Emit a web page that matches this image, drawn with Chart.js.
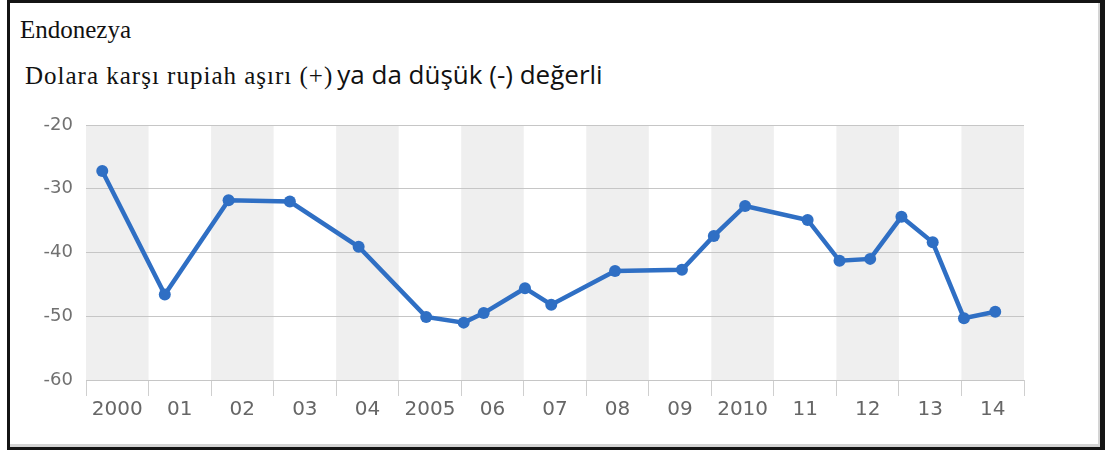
<!DOCTYPE html>
<html>

<head>
  <meta charset="utf-8">
  <title>Endonezya</title>
  <script src="https://cdn.jsdelivr.net/npm/chart.js"></script>
  <style>
    body {
      margin: 0;
      background: #fff;
      width: 1105px;
      height: 450px;
      overflow: hidden;
      position: relative;
    }

    .frame {
      position: absolute;
      left: 7px;
      top: 0;
      width: 1098px;
      height: 450px;
      box-sizing: border-box;
      border: 3px solid #141414;
      border-right-width: 5px;
      box-shadow: inset -2px -3px 0 #d4d4d4;
    }

    .title {
      position: absolute;
      left: 20px;
      top: 17px;
      font: 25px "Liberation Serif", serif;
      line-height: 25px;
      color: #111;
      white-space: nowrap;
    }

    .subtitle {
      position: absolute;
      left: 25px;
      top: 56px;
      line-height: 30px;
      color: #111;
      white-space: nowrap;
    }

    .subtitle .serif {
      font: 25px "Liberation Serif", serif;
      letter-spacing: 1px;
    }

    .subtitle .sans {
      font: 26px "Open Sans", sans-serif;
    }

    .chart-box {
      position: absolute;
      left: 20px;
      top: 100px;
      width: 1020px;
      height: 340px;
    }
  </style>
</head>

<body>
  <div class="frame"></div>
  <div class="title">Endonezya</div>
  <div class="subtitle"><span class="serif">Dolara karşı rupiah aşırı (+)</span> <span class="sans">ya da düşük (-) değerli</span></div>
  <div class="chart-box">
    <canvas id="rupiahChart"></canvas>
  </div>
  <script>
    // year bands on the x axis and their short labels
    const years = [2000, 2001, 2002, 2003, 2004, 2005, 2006, 2007, 2008, 2009, 2010, 2011, 2012, 2013, 2014];
    const yearLabels = ['2000', '01', '02', '03', '04', '2005', '06', '07', '08', '09', '2010', '11', '12', '13', '14'];

    // observation dates (decimal years) and over/under valuation in %
    const dates = [2000.26, 2001.26, 2002.28, 2003.26, 2004.36, 2005.44, 2006.04, 2006.36, 2007.02, 2007.44,
      2008.46, 2009.53, 2010.04, 2010.54, 2011.54, 2012.05, 2012.54, 2013.04, 2013.54, 2014.04, 2014.54];
    const values = [-27.2, -46.6, -31.8, -32.0, -39.1, -50.1, -51.0, -49.5, -45.6, -48.2,
      -42.9, -42.7, -37.4, -32.7, -34.9, -41.3, -41.0, -34.4, -38.4, -50.3, -49.3];

    const yTicks = [-60, -50, -40, -30, -20];

    const lineColor = '#2f6fc4';

    // alternate grey year bands behind the grid
    const yearBands = {
      id: 'yearBands',
      beforeDraw(chart) {
        const { ctx, chartArea, scales } = chart;
        const x = scales.x;
        ctx.save();
        ctx.fillStyle = '#efefef';
        years.forEach(function (year, i) {
          if (i % 2 !== 0) return;
          const left = x.getPixelForValue(year);
          const right = x.getPixelForValue(year + 1);
          ctx.fillRect(left, chartArea.top, right - left, chartArea.bottom - chartArea.top);
        });
        ctx.restore();
      }
    };

    const points = dates.map(function (d, i) {
      return { x: d, y: values[i] };
    });

    new Chart(document.getElementById('rupiahChart'), {
      type: 'line',
      data: {
        datasets: [{
          data: points,
          borderColor: lineColor,
          backgroundColor: lineColor,
          borderWidth: 4.5,
          pointRadius: 6,
          pointBorderWidth: 0,
          pointBackgroundColor: lineColor,
          tension: 0
        }]
      },
      options: {
        responsive: true,
        maintainAspectRatio: false,
        animation: false,
        layout: {
          padding: { top: 25, right: 16, bottom: 0, left: 0 }
        },
        plugins: {
          legend: { display: false },
          tooltip: { enabled: false }
        },
        scales: {
          x: {
            type: 'linear',
            min: years[0],
            max: years[years.length - 1] + 1,
            afterBuildTicks: function (scale) {
              const ticks = [];
              years.forEach(function (year) {
                ticks.push({ value: year });
                ticks.push({ value: year + 0.5 });
              });
              ticks.push({ value: years[years.length - 1] + 1 });
              scale.ticks = ticks;
            },
            afterFit: function (scale) {
              scale.height = 60;
            },
            border: { display: false },
            grid: {
              drawOnChartArea: false,
              drawTicks: true,
              tickLength: 16,
              color: function (ctx) {
                return ctx.tick && Number.isInteger(ctx.tick.value) ? '#cfcfcf' : 'rgba(0,0,0,0)';
              }
            },
            ticks: {
              autoSkip: false,
              maxRotation: 0,
              minRotation: 0,
              padding: 2,
              color: '#666666',
              font: { family: 'DejaVu Sans', size: 20 },
              callback: function (value) {
                const i = value - years[0] - 0.5;
                return Number.isInteger(i) ? yearLabels[i] : '';
              }
            }
          },
          y: {
            min: yTicks[0],
            max: yTicks[yTicks.length - 1],
            afterFit: function (scale) {
              scale.width = 66;
            },
            border: { display: false },
            grid: {
              drawTicks: false,
              color: '#c6c6c6'
            },
            ticks: {
              stepSize: 10,
              padding: 13,
              color: '#707070',
              font: { family: 'DejaVu Sans', size: 18 }
            }
          }
        }
      },
      plugins: [yearBands]
    });
  </script>
</body>

</html>
